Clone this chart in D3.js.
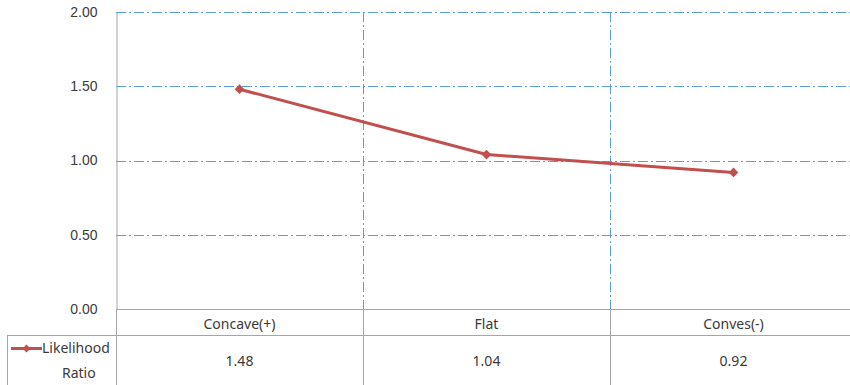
<!DOCTYPE html>
<html>
<head>
<meta charset="utf-8">
<script src="https://cdn.jsdelivr.net/npm/d3@7"></script>
<style>
  html, body { margin: 0; padding: 0; background: #fff; }
  svg { display: block; font-family: "Noto Sans", "Open Sans", sans-serif; }
</style>
</head>
<body>
<svg id="chart" width="850" height="385"></svg>
<script>
// Likelihood ratio by curvature class, with a data table under the axis
const categories = ["Concave(+)", "Flat", "Conves(-)"];
const seriesName = ["Likelihood", "Ratio"];
const likelihoodRatio = [1.48, 1.04, 0.92];
const yTicks = [0, 0.5, 1.0, 1.5, 2.0];

const svg = d3.select("#chart");
const plot = { left: 116, right: 857, top: 12, bottom: 309 };
const tableRow1 = 335, tableBottom = 390, legendLeft = 7;
const fontSize = 14;
const textColor = "#3a3a3a";

const x = d3.scaleBand().domain(categories).range([plot.left, plot.right]);
const y = d3.scaleLinear().domain([0, 2]).range([plot.bottom, plot.top]);

const gridColor = "#5b9be6";
const frameColor = "#a6a6a6";
const dash = "10,3,2,3";

// horizontal gridlines
svg.append("g").selectAll("line").data(yTicks.filter(d => d > 0)).join("line")
  .attr("x1", plot.left).attr("x2", plot.right)
  .attr("y1", d => Math.round(y(d)) + 0.5).attr("y2", d => Math.round(y(d)) + 0.5)
  .attr("stroke", gridColor).attr("stroke-width", 1).attr("stroke-dasharray", dash);

// vertical gridlines at category boundaries
const bounds = categories.slice(1).map(c => x(c));
svg.append("g").selectAll("line").data(bounds).join("line")
  .attr("x1", d => Math.round(d) + 0.5).attr("x2", d => Math.round(d) + 0.5)
  .attr("y1", plot.top).attr("y2", plot.bottom)
  .attr("stroke", gridColor).attr("stroke-width", 1).attr("stroke-dasharray", dash);

// y axis
const yAxis = d3.axisLeft(y).tickValues(yTicks).tickFormat(d3.format(".2f")).tickSize(0).tickPadding(19);
const gy = svg.append("g").attr("transform", `translate(${plot.left + 0.5},0)`).call(yAxis);
gy.select(".domain").attr("stroke", frameColor);
gy.selectAll("text").attr("font-size", fontSize).attr("fill", textColor).attr("font-family", null);

// table frame
const tbl = svg.append("g").attr("stroke", frameColor).attr("stroke-width", 1).attr("fill", "none");
tbl.append("line").attr("x1", plot.left).attr("x2", 850).attr("y1", plot.bottom + 0.5).attr("y2", plot.bottom + 0.5);
tbl.append("line").attr("x1", legendLeft).attr("x2", 850).attr("y1", tableRow1 + 0.5).attr("y2", tableRow1 + 0.5);
tbl.append("line").attr("x1", legendLeft + 0.5).attr("x2", legendLeft + 0.5).attr("y1", tableRow1).attr("y2", tableBottom);
tbl.append("line").attr("x1", plot.left + 0.5).attr("x2", plot.left + 0.5).attr("y1", plot.bottom).attr("y2", tableBottom);
tbl.selectAll("line.b").data(bounds).join("line").attr("class", "b")
  .attr("x1", d => Math.round(d) + 0.5).attr("x2", d => Math.round(d) + 0.5)
  .attr("y1", plot.bottom).attr("y2", tableBottom);

// category labels and values
svg.append("g").selectAll("text").data(categories).join("text")
  .attr("x", d => x(d) + x.bandwidth() / 2).attr("y", 329)
  .attr("text-anchor", "middle").attr("font-size", fontSize).attr("fill", textColor).text(d => d);
svg.append("g").selectAll("text").data(likelihoodRatio).join("text")
  .attr("x", (d, i) => x(categories[i]) + x.bandwidth() / 2).attr("y", 366)
  .attr("text-anchor", "middle").attr("font-size", fontSize).attr("fill", textColor).text(d => d.toFixed(2));

// series line
const lineColor = "#c0504d";
const pts = likelihoodRatio.map((v, i) => [x(categories[i]) + x.bandwidth() / 2, y(v)]);
svg.append("path").datum(pts).attr("d", d3.line())
  .attr("fill", "none").attr("stroke", lineColor).attr("stroke-width", 3).attr("stroke-linejoin", "round");
const diamond = d3.symbol().type(d3.symbolDiamond2).size(60);
svg.append("g").selectAll("path").data(pts).join("path")
  .attr("transform", d => `translate(${d[0]},${d[1]})`).attr("d", diamond).attr("fill", lineColor);

// legend key inside the table
const lg = svg.append("g");
lg.append("line").attr("x1", 11).attr("x2", 42).attr("y1", 348.5).attr("y2", 348.5)
  .attr("stroke", lineColor).attr("stroke-width", 3);
lg.append("path").attr("transform", "translate(26.5,348.5)").attr("d", d3.symbol().type(d3.symbolDiamond2).size(40)).attr("fill", lineColor);
lg.append("text").attr("x", 42).attr("y", 353).attr("font-size", fontSize).attr("fill", textColor).text(seriesName[0]);
lg.append("text").attr("x", 62).attr("y", 378).attr("font-size", fontSize).attr("fill", textColor).text(seriesName[1]);
</script>
</body>
</html>
